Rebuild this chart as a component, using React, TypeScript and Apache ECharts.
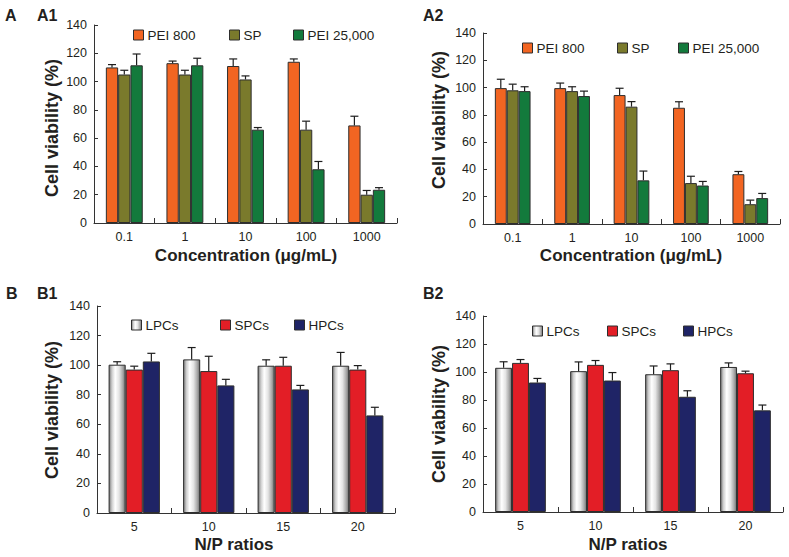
import React, { useEffect, useRef } from "react";
import * as echarts from "echarts";

// ---------- data ----------
const concCategories = ["0.1", "1", "10", "100", "1000"];
const npCategories = ["5", "10", "15", "20"];

const seriesNamesA = ["PEI 800", "SP", "PEI 25,000"];
const seriesNamesB = ["LPCs", "SPCs", "HPCs"];

// A1
const a1Pei800 = [110, 113, 111, 114, 69];
const a1Pei800Err = [2, 1.5, 5, 2, 6.5];
const a1Sp = [105, 105, 101.5, 66, 20];
const a1SpErr = [3, 3, 2.5, 6, 3];
const a1Pei25k = [111.5, 111.5, 66, 38, 23.5];
const a1Pei25kErr = [8, 5, 1.5, 5.5, 1.5];

// A2
const a2Pei800 = [99.6, 99.6, 94.5, 85.2, 36.5];
const a2Pei800Err = [6.5, 3.7, 5, 4.4, 2];
const a2Sp = [98, 97.4, 86, 30, 14.5];
const a2SpErr = [4.5, 3.2, 3.7, 5, 3];
const a2Pei25k = [97.4, 93.8, 32, 28.2, 19];
const a2Pei25kErr = [3.2, 3.6, 6.8, 3, 3.4];

// B1
const b1Lpcs = [100.3, 103.9, 99.6, 99.6];
const b1LpcsErr = [2, 8, 4, 9];
const b1Spcs = [97, 96, 99.6, 97];
const b1SpcsErr = [2.3, 10, 5.7, 2.7];
const b1Hpcs = [102.5, 86.3, 83.6, 66];
const b1HpcsErr = [5.5, 4.1, 2.7, 5.5];

// B2
const b2Lpcs = [103, 100.6, 98.4, 103.6];
const b2LpcsErr = [4.3, 6.6, 5.9, 2.9];
const b2Spcs = [106.5, 105.1, 101.3, 99.1];
const b2SpcsErr = [2.4, 3.1, 4.5, 1.5];
const b2Hpcs = [92.5, 93.9, 82.3, 72.6];
const b2HpcsErr = [2.9, 5.7, 4.3, 3.8];

const yTicks = { min: 0, max: 140, interval: 20 };

// ---------- styles ----------
const FONT = "'Liberation Sans', Arial, Helvetica, sans-serif";
const TXT = "#231f20";
const AXIS = "#333333";
const BORDER = "#2e2e2e";

const cOrange = "#f26522";
const cOlive = "#7a7a2c";
const cGreen = "#137a3c";
const cRed = "#e31e26";
const cNavy = "#1f2466";
const cWhite = new echarts.graphic.LinearGradient(0, 0, 1, 0, [
  { offset: 0, color: "#7a7a7a" },
  { offset: 0.18, color: "#cfcfcf" },
  { offset: 0.38, color: "#ffffff" },
  { offset: 0.62, color: "#e4e4e4" },
  { offset: 0.85, color: "#a8a8a8" },
  { offset: 1, color: "#707070" },
]);

const colorsA = [cOrange, cOlive, cGreen];
const colorsB = [cWhite, cRed, cNavy];

type Panel = {
  grid: { left: number; top: number; width: number; height: number };
  cats: string[];
  names: string[];
  colors: any[];
  vals: number[][];
  errs: number[][];
  barWidth: number;
  legendPos: { left: number; top: number }[];
};

const panels: Panel[] = [
  {
    grid: { left: 94, top: 25, width: 303, height: 198 },
    cats: concCategories,
    names: seriesNamesA,
    colors: colorsA,
    vals: [a1Pei800, a1Sp, a1Pei25k],
    errs: [a1Pei800Err, a1SpErr, a1Pei25kErr],
    barWidth: 12.3,
    legendPos: [
      { left: 133, top: 28 },
      { left: 229, top: 28 },
      { left: 293, top: 28 },
    ],
  },
  {
    grid: { left: 483, top: 33, width: 297, height: 191 },
    cats: concCategories,
    names: seriesNamesA,
    colors: colorsA,
    vals: [a2Pei800, a2Sp, a2Pei25k],
    errs: [a2Pei800Err, a2SpErr, a2Pei25kErr],
    barWidth: 11.9,
    legendPos: [
      { left: 522, top: 41 },
      { left: 617, top: 41 },
      { left: 678, top: 41 },
    ],
  },
  {
    grid: { left: 97, top: 306, width: 298, height: 207 },
    cats: npCategories,
    names: seriesNamesB,
    colors: colorsB,
    vals: [b1Lpcs, b1Spcs, b1Hpcs],
    errs: [b1LpcsErr, b1SpcsErr, b1HpcsErr],
    barWidth: 17.1,
    legendPos: [
      { left: 131, top: 318 },
      { left: 220, top: 318 },
      { left: 294, top: 318 },
    ],
  },
  {
    grid: { left: 483, top: 316, width: 300, height: 196 },
    cats: npCategories,
    names: seriesNamesB,
    colors: colorsB,
    vals: [b2Lpcs, b2Spcs, b2Hpcs],
    errs: [b2LpcsErr, b2SpcsErr, b2HpcsErr],
    barWidth: 16.9,
    legendPos: [
      { left: 532, top: 324 },
      { left: 607, top: 324 },
      { left: 683, top: 324 },
    ],
  },
];

function buildOption() {
  const grid: any[] = [];
  const xAxis: any[] = [];
  const yAxis: any[] = [];
  const series: any[] = [];
  const legend: any[] = [];

  panels.forEach((p, gi) => {
    grid.push({ ...p.grid, containLabel: false });
    xAxis.push({
      type: "category",
      gridIndex: gi,
      data: p.cats,
      boundaryGap: true,
      axisLine: { show: true, lineStyle: { color: AXIS, width: 1 } },
      axisTick: { show: true, inside: true, length: 5, lineStyle: { color: AXIS } },
      axisLabel: { fontFamily: FONT, fontSize: 12.5, color: TXT, margin: 7 },
      splitLine: { show: false },
    });
    yAxis.push({
      type: "value",
      gridIndex: gi,
      min: yTicks.min,
      max: yTicks.max,
      interval: yTicks.interval,
      axisLine: { show: true, lineStyle: { color: AXIS, width: 1 } },
      axisTick: { show: true, inside: true, length: 4, lineStyle: { color: AXIS } },
      axisLabel: { fontFamily: FONT, fontSize: 12.5, color: TXT, margin: 7 },
      splitLine: { show: false },
    });
    p.names.forEach((name, si) => {
      series.push({
        type: "bar",
        name,
        xAxisIndex: gi,
        yAxisIndex: gi,
        data: p.vals[si],
        barWidth: p.barWidth,
        barGap: "0%",
        itemStyle: { color: p.colors[si], borderColor: BORDER, borderWidth: 1 },
        z: 2,
      });
      legend.push({
        left: p.legendPos[si].left,
        top: p.legendPos[si].top,
        orient: "horizontal",
        padding: 0,
        itemGap: 0,
        itemWidth: 10,
        itemHeight: 10,
        icon: "rect",
        selectedMode: false,
        data: [{ name, itemStyle: { color: p.colors[si], borderColor: BORDER, borderWidth: 1 } }],
        textStyle: { fontFamily: FONT, fontSize: 13.5, color: TXT, padding: [0, 0, 0, -1] },
      });
    });
    const errData: number[][] = [];
    p.vals.forEach((vals, si) => {
      vals.forEach((v, ci) => {
        errData.push([ci, si, v, v + p.errs[si][ci]]);
      });
    });
    const bw = p.barWidth;
    series.push({
      type: "custom",
      name: "err" + gi,
      xAxisIndex: gi,
      yAxisIndex: gi,
      data: errData,
      encode: { x: 0, y: [2, 3] },
      z: 5,
      silent: true,
      renderItem: (params: any, api: any) => {
        const ci = api.value(0);
        const si = api.value(1);
        const v = api.value(2);
        const top = api.value(3);
        const p0 = api.coord([ci, v]);
        const p1 = api.coord([ci, top]);
        const x = p0[0] + (si - 1) * bw;
        const st = { stroke: "#1e1e1e", lineWidth: 1.2 };
        return {
          type: "group",
          children: [
            { type: "line", shape: { x1: x, y1: p0[1], x2: x, y2: p1[1] }, style: st },
            { type: "line", shape: { x1: x - 4, y1: p1[1], x2: x + 4, y2: p1[1] }, style: st },
          ],
        };
      },
    });
  });

  const boldText = (text: string, x: number, y: number, size: number, rot = 0, align = "center") => ({
    type: "text",
    x,
    y,
    rotation: rot,
    style: {
      text,
      fontFamily: FONT,
      fontWeight: "bold",
      fontSize: size,
      fill: TXT,
      textAlign: align,
      textVerticalAlign: "middle",
    },
    z: 10,
  });

  const graphic = [
    boldText("A", 5, 15, 16, 0, "left"),
    boldText("A1", 37, 15, 16, 0, "left"),
    boldText("A2", 423, 15, 16, 0, "left"),
    boldText("B", 6, 293, 16, 0, "left"),
    boldText("B1", 37, 293, 16, 0, "left"),
    boldText("B2", 423, 293, 16, 0, "left"),
    boldText("Cell viability (%)", 52, 128, 18, Math.PI / 2),
    boldText("Cell viability (%)", 439, 120, 18, Math.PI / 2),
    boldText("Cell viability (%)", 52, 410, 18, Math.PI / 2),
    boldText("Cell viability (%)", 439, 414, 18, Math.PI / 2),
    boldText("Concentration (\u03bcg/mL)", 246, 255, 17),
    boldText("Concentration (\u03bcg/mL)", 631, 255, 17),
    boldText("N/P ratios", 234, 544, 17),
    boldText("N/P ratios", 628, 544, 17),
  ];

  return {
    animation: false,
    backgroundColor: "#ffffff",
    grid,
    xAxis,
    yAxis,
    series,
    legend,
    graphic,
  };
}

export default function App() {
  const ref = useRef<HTMLDivElement>(null);
  useEffect(() => {
    if (!ref.current) return;
    const chart = echarts.init(ref.current, undefined, { renderer: "svg" });
    chart.setOption(buildOption() as any);
    return () => chart.dispose();
  }, []);
  return (
    <div
      ref={ref}
      style={{ position: "absolute", left: 0, top: 0, width: 789, height: 557, background: "#fff" }}
    />
  );
}
